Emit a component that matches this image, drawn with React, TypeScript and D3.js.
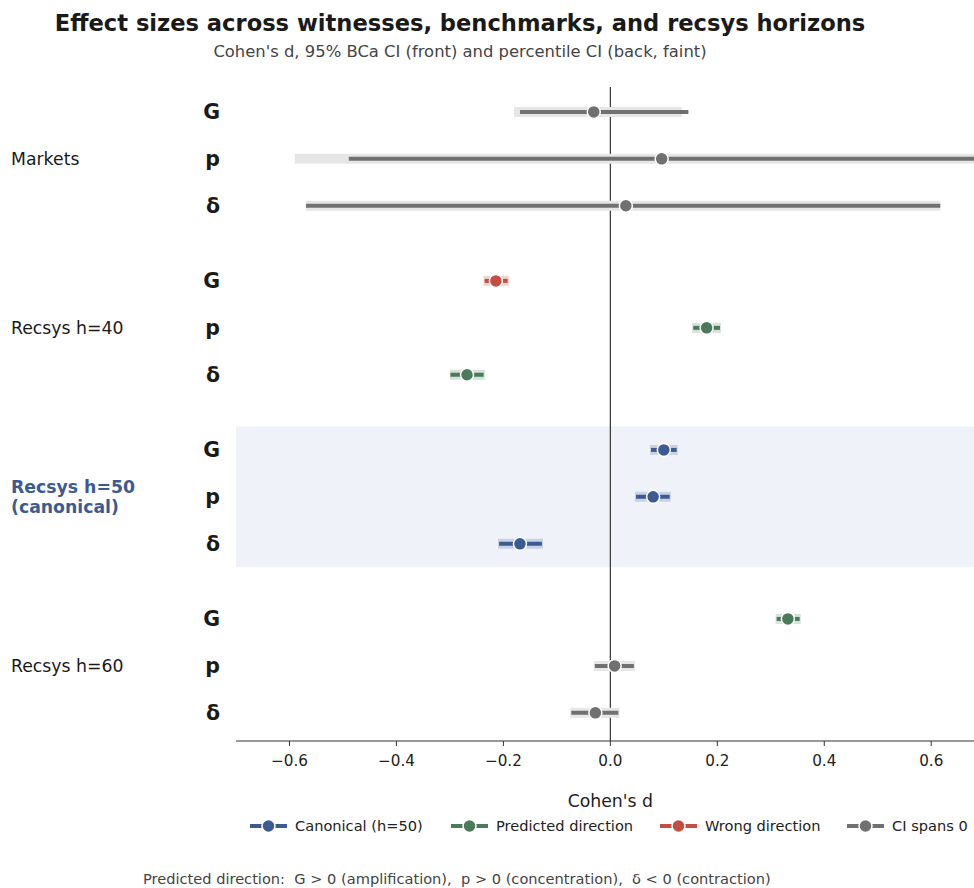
import React from "react";
import * as d3 from "d3";

const groups = ["Markets", "Recsys h=40", "Recsys h=50", "Recsys h=60"];
const witnesses = ["G", "p", "δ"];
const estimates: number[][] = [
  [-0.031, 0.096, 0.029],
  [-0.214, 0.18, -0.268],
  [0.1, 0.08, -0.169],
  [0.332, 0.008, -0.028],
];
const bcaLo: number[][] = [
  [-0.169, -0.489, -0.569],
  [-0.235, 0.155, -0.299],
  [0.076, 0.048, -0.208],
  [0.311, -0.029, -0.073],
];
const bcaHi: number[][] = [
  [0.146, 0.8, 0.617],
  [-0.192, 0.205, -0.237],
  [0.124, 0.111, -0.128],
  [0.354, 0.044, 0.015],
];
const pctLo: number[][] = [
  [-0.18, -0.59, -0.569],
  [-0.237, 0.153, -0.3],
  [0.074, 0.046, -0.21],
  [0.309, -0.031, -0.075],
];
const pctHi: number[][] = [
  [0.133, 0.8, 0.617],
  [-0.19, 0.207, -0.235],
  [0.126, 0.113, -0.126],
  [0.356, 0.046, 0.017],
];
const kinds: string[][] = [
  ["span", "span", "span"],
  ["wrong", "pred", "pred"],
  ["canon", "canon", "canon"],
  ["pred", "span", "span"],
];
const xTicks = [-0.6, -0.4, -0.2, 0.0, 0.2, 0.4, 0.6];
const legendKeys = ["canon", "pred", "wrong", "span"];
const legendLabels = ["Canonical (h=50)", "Predicted direction", "Wrong direction", "CI spans 0"];
const colors: Record<string, string> = {
  canon: "#3b5b92",
  pred: "#4a7a5a",
  wrong: "#c44e3f",
  span: "#707070",
};
const faint: Record<string, string> = {
  canon: "#c9d2e2",
  pred: "#d6e1d9",
  wrong: "#f0d2ce",
  span: "#e6e6e6",
};

const FONT = "DejaVu Sans, sans-serif";
const GROUP_STEP = 3.6;

export default function App() {
  const W = 974, H = 888;
  const left = 236, right = 974, top = 87, bottom = 741;
  const x = d3.scaleLinear().domain([-0.7, 0.68]).range([left, right]);
  const y = d3.scaleLinear().domain([-0.53, 3 * GROUP_STEP + 2 + 0.6]).range([top, bottom]);
  const pos = (g: number, r: number) => g * GROUP_STEP + r;

  return (
    <svg width={W} height={H} style={{ position: "absolute", left: 0, top: 0, fontFamily: FONT }}>
      <defs>
        <clipPath id="plotclip">
          <rect x={left} y={top} width={right - left} height={bottom - top} />
        </clipPath>
      </defs>
      <rect x={0} y={0} width={W} height={H} fill="#fff" />
      <text x={460} y={31} textAnchor="middle" fontSize={22.6} fontWeight="bold" fill="#1a1a1a">
        Effect sizes across witnesses, benchmarks, and recsys horizons
      </text>
      <text x={460} y={57} textAnchor="middle" fontSize={16.4} fill="#444">
        Cohen's d, 95% BCa CI (front) and percentile CI (back, faint)
      </text>

      <rect
        x={left}
        y={y(pos(2, 1) - 1.5)}
        width={right - left}
        height={y(pos(2, 1) + 1.5) - y(pos(2, 1) - 1.5)}
        fill="#eff2f9"
      />
      <line x1={x(0)} x2={x(0)} y1={top} y2={bottom} stroke="#333" strokeWidth={1.2} />

      <g clipPath="url(#plotclip)">
        {groups.map((_, g) =>
          witnesses.map((_, r) => {
            const k = kinds[g][r];
            const yy = y(pos(g, r));
            return (
              <g key={`${g}-${r}`}>
                <line x1={x(pctLo[g][r])} x2={x(pctHi[g][r])} y1={yy} y2={yy} stroke={faint[k]} strokeWidth={10} />
                <line x1={x(bcaLo[g][r])} x2={x(bcaHi[g][r])} y1={yy} y2={yy} stroke={colors[k]} strokeWidth={4} />
                <circle cx={x(estimates[g][r])} cy={yy} r={6.5} fill={colors[k]} stroke="#fff" strokeWidth={1.5} />
              </g>
            );
          })
        )}
      </g>

      {groups.map((gname, g) => (
        <g key={gname}>
          {witnesses.map((w, r) => (
            <text key={w} x={220} y={y(pos(g, r))} dy="0.36em" textAnchor="end" fontSize={20.5} fontWeight="bold" fill="#1a1a1a">
              {w}
            </text>
          ))}
          {g === 2 ? (
            <text x={11} y={y(pos(g, 1))} fontSize={17.3} fontWeight="bold" fill="#3b5b92">
              <tspan x={11} dy="-0.2em">Recsys h=50</tspan>
              <tspan x={11} dy="1.12em">(canonical)</tspan>
            </text>
          ) : (
            <text x={11} y={y(pos(g, 1))} dy="0.35em" fontSize={17.3} fill="#1a1a1a">
              {gname}
            </text>
          )}
        </g>
      ))}

      <line x1={left} x2={right} y1={bottom} y2={bottom} stroke="#333" strokeWidth={1.2} />
      {xTicks.map((t) => (
        <g key={t} transform={`translate(${x(t)},${bottom})`}>
          <line y1={0} y2={5} stroke="#333" strokeWidth={1} />
          <text y={25} textAnchor="middle" fontSize={15.2} fill="#222">
            {d3.format(".1f")(t).replace("-", "\u2212")}
          </text>
        </g>
      ))}
      <text x={x(0)} y={807} textAnchor="middle" fontSize={17.3} fill="#222">
        Cohen's d
      </text>

      {legendKeys.map((k, i) => {
        const lx = [250, 451, 660, 847][i];
        const ly = 826;
        return (
          <g key={k}>
            <line x1={lx} x2={lx + 37} y1={ly} y2={ly} stroke={colors[k]} strokeWidth={4} />
            <circle cx={lx + 18.5} cy={ly} r={6.5} fill={colors[k]} stroke="#fff" strokeWidth={1.5} />
            <text x={lx + 45} y={ly} dy="0.36em" fontSize={14.6} fill="#222">
              {legendLabels[i]}
            </text>
          </g>
        );
      })}

      <text x={143} y={884} fontSize={14.6} fill="#444" style={{ whiteSpace: "pre" }}>
        {"Predicted direction:  G > 0 (amplification),  p > 0 (concentration),  δ < 0 (contraction)"}
      </text>
    </svg>
  );
}
